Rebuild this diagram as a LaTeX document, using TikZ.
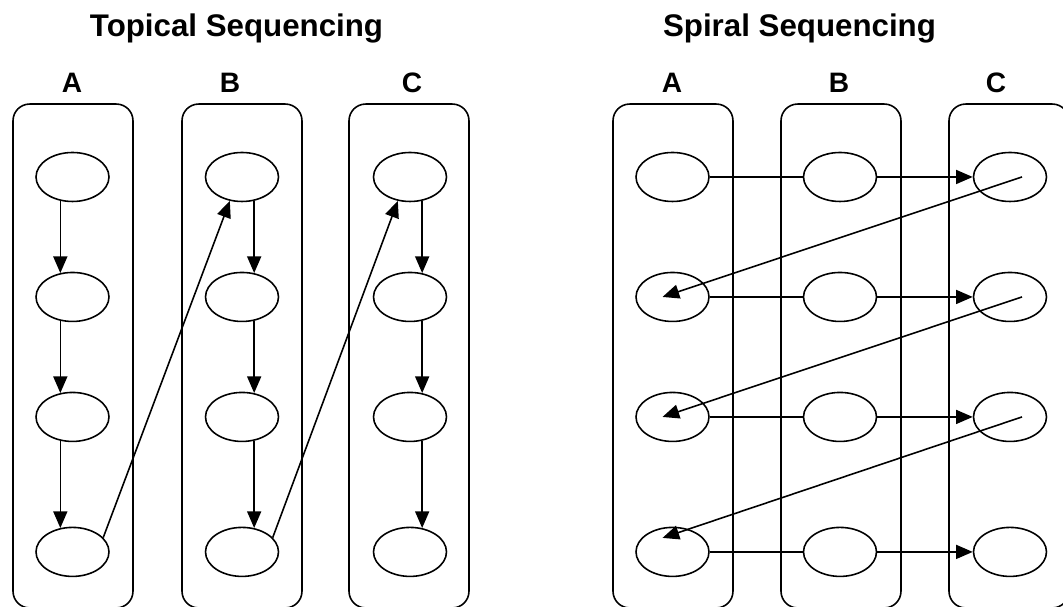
\documentclass[tikz,border=0pt]{standalone}
\usepackage{fontspec}
\setmainfont{Liberation Sans}
\usetikzlibrary{shapes, positioning, calc, arrows.meta}

\begin{document}
\begin{tikzpicture}[x=0.02cm, y=0.02cm, 
  lane/.style={rectangle, 
    draw, 
    line width=0.9pt, 
    rounded corners=9.5pt, 
    minimum width=2.4cm, 
    minimum height=10.08cm}, 
  unit/.style={ellipse, 
    draw, 
    line width=0.9pt, 
    inner sep=0pt, 
    on grid, 
    minimum width=1.46cm, 
    minimum height=0.98cm}, 
  seqtitle/.style={font=\fontsize{17.8}{20}\selectfont\bfseries, 
    inner sep=0pt, 
    anchor=base}, 
  collabel/.style={font=\fontsize{16}{18}\selectfont\bfseries, 
    inner sep=0pt, 
    anchor=base}, 
  nextarrow/.style={line width=0.9pt, 
    -{Triangle[length=9.5pt, width=8pt]}}, 
  joinline/.style={line width=0.9pt}]

  \useasboundingbox (0,0) rectangle (1063,607);

  \node[seqtitle] (topicaltitle) at (236.5,570) {Topical Sequencing};
  \node[seqtitle] (spiraltitle) at (799.5,570) {Spiral Sequencing};

  \node[collabel] (topicallabelA) at (72,514) {A};
  \node[collabel] (topicallabelB) at (230,514) {B};
  \node[collabel] (topicallabelC) at (412,514) {C};
  \node[collabel] (spirallabelA) at (672,514) {A};
  \node[collabel] (spirallabelB) at (839,514) {B};
  \node[collabel] (spirallabelC) at (996,514) {C};

  % LANES

  \node[lane] (topicalA) at (73,251) {};
  \node[lane] (topicalB) at (242,251) {};
  \node[lane] (topicalC) at (409,251) {};
  \node[lane] (spiralA) at (673,251) {};
  \node[lane] (spiralB) at (841,251) {};
  \node[lane] (spiralC) at (1009,251) {};

  % TOPICAL

  \node[unit] (topicalA1) at (72.5,430) {};
  \node[unit, below=2.4cm of topicalA1] (topicalA2) {};
  \node[unit, below=2.4cm of topicalA2] (topicalA3) {};
  \node[unit, below=2.7cm of topicalA3] (topicalA4) {};

  \node[unit] (topicalB1) at (242,430) {};
  \node[unit, below=2.4cm of topicalB1] (topicalB2) {};
  \node[unit, below=2.4cm of topicalB2] (topicalB3) {};
  \node[unit, below=2.7cm of topicalB3] (topicalB4) {};

  \node[unit] (topicalC1) at (410,430) {};
  \node[unit, below=2.4cm of topicalC1] (topicalC2) {};
  \node[unit, below=2.4cm of topicalC2] (topicalC3) {};
  \node[unit, below=2.7cm of topicalC3] (topicalC4) {};

  \draw[nextarrow] (topicalA1.243) -- (topicalA2.117);
  \draw[nextarrow] (topicalA2.243) -- (topicalA3.117);
  \draw[nextarrow] (topicalA3.243) -- (topicalA4.117);

  \draw[nextarrow] (topicalB1.297) -- (topicalB2.63);
  \draw[nextarrow] (topicalB2.297) -- (topicalB3.63);
  \draw[nextarrow] (topicalB3.297) -- (topicalB4.63);

  \draw[nextarrow] (topicalC1.297) -- (topicalC2.63);
  \draw[nextarrow] (topicalC2.297) -- (topicalC3.63);
  \draw[nextarrow] (topicalC3.297) -- (topicalC4.63);

  \draw[nextarrow] (topicalA4.25) -- (topicalB1.243);
  \draw[nextarrow] (topicalB4.25) -- (topicalC1.243);

  % SPIRAL

  \node[unit] (spiralA1) at (672.5,430) {};
  \node[unit, below=2.4cm of spiralA1] (spiralA2) {};
  \node[unit, below=2.4cm of spiralA2] (spiralA3) {};
  \node[unit, below=2.7cm of spiralA3] (spiralA4) {};

  \node[unit] (spiralB1) at (840,430) {};
  \node[unit, below=2.4cm of spiralB1] (spiralB2) {};
  \node[unit, below=2.4cm of spiralB2] (spiralB3) {};
  \node[unit, below=2.7cm of spiralB3] (spiralB4) {};

  \node[unit] (spiralC1) at (1010,430) {};
  \node[unit, below=2.4cm of spiralC1] (spiralC2) {};
  \node[unit, below=2.4cm of spiralC2] (spiralC3) {};
  \node[unit, below=2.7cm of spiralC3] (spiralC4) {};

  \draw[joinline] (spiralA1.east) -- (spiralB1.west);
  \draw[nextarrow] (spiralB1.east) -- (spiralC1.west);
  \draw[joinline] (spiralA2.east) -- (spiralB2.west);
  \draw[nextarrow] (spiralB2.east) -- (spiralC2.west);
  \draw[joinline] (spiralA3.east) -- (spiralB3.west);
  \draw[nextarrow] (spiralB3.east) -- (spiralC3.west);
  \draw[joinline] (spiralA4.east) -- (spiralB4.west);
  \draw[nextarrow] (spiralB4.east) -- (spiralC4.west);

  \draw[nextarrow] ($(spiralC1.center)+(12,0)$) -- ($(spiralA2.center)+(-10,0)$);
  \draw[nextarrow] ($(spiralC2.center)+(12,0)$) -- ($(spiralA3.center)+(-10,0)$);
  \draw[nextarrow] ($(spiralC3.center)+(12,0)$) -- ($(spiralA4.center)+(-10,14)$);

\end{tikzpicture}
\end{document}
